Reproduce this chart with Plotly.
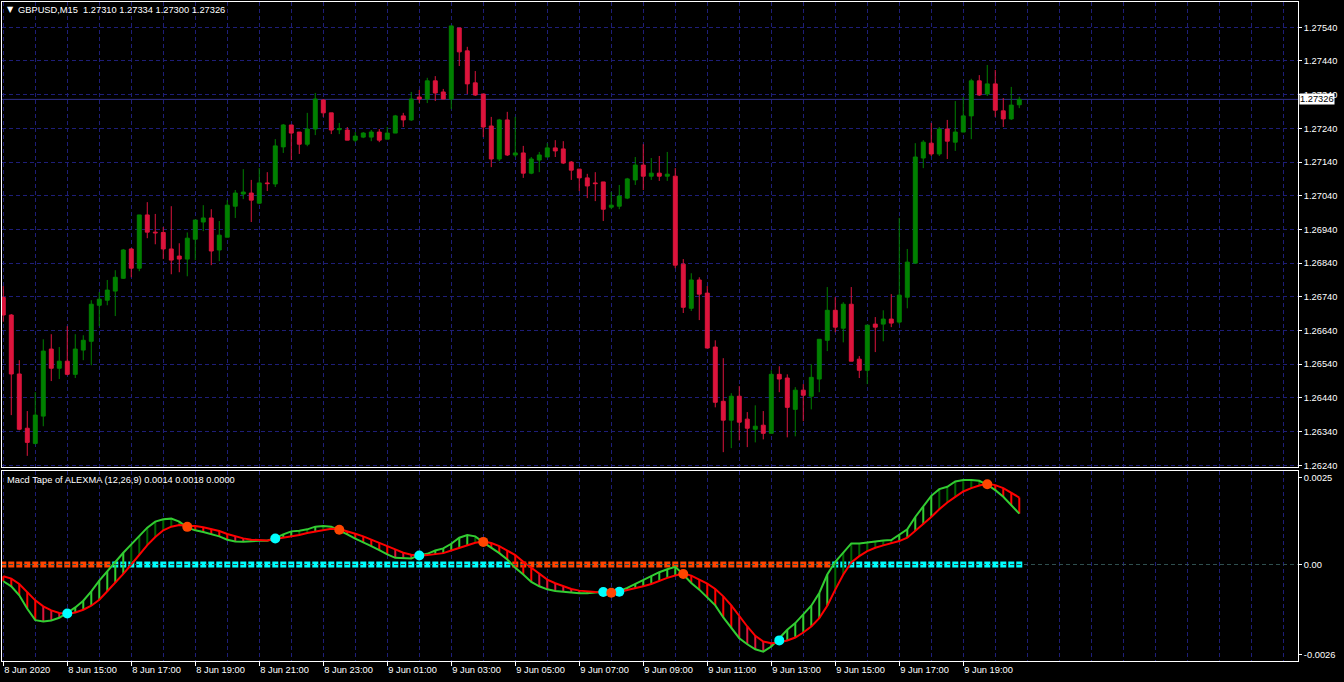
import plotly.graph_objects as go

# ---------------- data ----------------
bar_index = list(range(128))          # 15-minute bars, 8 Jun 2020 13:00 .. 9 Jun 2020 20:45

open_ = [1.26738, 1.26686, 1.26511, 1.26350, 1.26305, 1.26386, 1.26585, 1.26528, 1.26549, 1.26510,
         1.26582, 1.26608, 1.26715, 1.26730, 1.26757, 1.26795, 1.26882, 1.26825, 1.26983, 1.26932,
         1.26931, 1.26882, 1.26861, 1.26852, 1.26911, 1.26962, 1.26974, 1.26879, 1.26917, 1.27009,
         1.27045, 1.27048, 1.27018, 1.27078, 1.27075, 1.27185, 1.27250, 1.27229, 1.27193, 1.27238,
         1.27324, 1.27286, 1.27236, 1.27235, 1.27205, 1.27214, 1.27214, 1.27229, 1.27208, 1.27226,
         1.27277, 1.27265, 1.27333, 1.27327, 1.27381, 1.27348, 1.27327, 1.27538, 1.27470, 1.27375,
         1.27342, 1.27247, 1.27149, 1.27265, 1.27161, 1.27167, 1.27107, 1.27146, 1.27155, 1.27182,
         1.27179, 1.27140, 1.27119, 1.27093, 1.27078, 1.27081, 1.27006, 1.27009, 1.27033, 1.27087,
         1.27131, 1.27098, 1.27107, 1.27098, 1.27098, 1.26837, 1.26706, 1.26790, 1.26751, 1.26591,
         1.26430, 1.26374, 1.26445, 1.26377, 1.26347, 1.26359, 1.26335, 1.26510, 1.26499, 1.26406,
         1.26463, 1.26445, 1.26496, 1.26611, 1.26700, 1.26647, 1.26718, 1.26555, 1.26522, 1.26659,
         1.26659, 1.26674, 1.26665, 1.26739, 1.26840, 1.27152, 1.27196, 1.27164, 1.27238, 1.27199,
         1.27229, 1.27277, 1.27381, 1.27342, 1.27372, 1.27292, 1.27268, 1.27310]

high = [1.26772, 1.26689, 1.26552, 1.26401, 1.26457, 1.26614, 1.26629, 1.26591, 1.26653, 1.26629,
        1.26626, 1.26730, 1.26754, 1.26790, 1.26819, 1.26882, 1.26885, 1.26983, 1.27021, 1.26986,
        1.26947, 1.27009, 1.26899, 1.26931, 1.26968, 1.27012, 1.27000, 1.26965, 1.27027, 1.27057,
        1.27119, 1.27087, 1.27122, 1.27110, 1.27208, 1.27253, 1.27250, 1.27229, 1.27286, 1.27345,
        1.27327, 1.27286, 1.27256, 1.27244, 1.27229, 1.27229, 1.27235, 1.27238, 1.27244, 1.27280,
        1.27286, 1.27348, 1.27354, 1.27390, 1.27395, 1.27357, 1.27544, 1.27538, 1.27482, 1.27410,
        1.27342, 1.27274, 1.27268, 1.27289, 1.27274, 1.27188, 1.27155, 1.27170, 1.27196, 1.27205,
        1.27202, 1.27143, 1.27119, 1.27105, 1.27110, 1.27081, 1.27051, 1.27072, 1.27093, 1.27155,
        1.27193, 1.27152, 1.27158, 1.27170, 1.27122, 1.26852, 1.26810, 1.26798, 1.26772, 1.26611,
        1.26558, 1.26454, 1.26475, 1.26398, 1.26418, 1.26401, 1.26522, 1.26534, 1.26510, 1.26472,
        1.26481, 1.26540, 1.26614, 1.26769, 1.26739, 1.26724, 1.26769, 1.26564, 1.26656, 1.26680,
        1.26700, 1.26748, 1.26974, 1.26882, 1.27196, 1.27205, 1.27256, 1.27244, 1.27265, 1.27321,
        1.27333, 1.27387, 1.27398, 1.27428, 1.27413, 1.27330, 1.27363, 1.27334]

low = [1.26666, 1.26389, 1.26344, 1.26268, 1.26302, 1.26356, 1.26490, 1.26496, 1.26507, 1.26499,
       1.26552, 1.26537, 1.26653, 1.26715, 1.26683, 1.26793, 1.26798, 1.26816, 1.26914, 1.26896,
       1.26852, 1.26807, 1.26813, 1.26801, 1.26849, 1.26935, 1.26834, 1.26846, 1.26917, 1.26974,
       1.27030, 1.26962, 1.27015, 1.27054, 1.27066, 1.27167, 1.27146, 1.27164, 1.27187, 1.27220,
       1.27274, 1.27223, 1.27223, 1.27205, 1.27199, 1.27211, 1.27202, 1.27199, 1.27208, 1.27226,
       1.27244, 1.27262, 1.27315, 1.27315, 1.27321, 1.27327, 1.27297, 1.27425, 1.27342, 1.27336,
       1.27214, 1.27125, 1.27143, 1.27158, 1.27155, 1.27093, 1.27104, 1.27110, 1.27155, 1.27155,
       1.27134, 1.27087, 1.27054, 1.27033, 1.27024, 1.26965, 1.27000, 1.27000, 1.27030, 1.27072,
       1.27057, 1.27087, 1.27084, 1.27084, 1.26825, 1.26692, 1.26698, 1.26671, 1.26588, 1.26412,
       1.26279, 1.26291, 1.26314, 1.26294, 1.26308, 1.26317, 1.26335, 1.26457, 1.26323, 1.26326,
       1.26371, 1.26406, 1.26457, 1.26579, 1.26635, 1.26605, 1.26549, 1.26499, 1.26481, 1.26576,
       1.26608, 1.26650, 1.26659, 1.26706, 1.26840, 1.27122, 1.27158, 1.27158, 1.27149, 1.27173,
       1.27229, 1.27208, 1.27336, 1.27336, 1.27274, 1.27244, 1.27265, 1.27300]

close = [1.26686, 1.26511, 1.26347, 1.26308, 1.26389, 1.26579, 1.26528, 1.26549, 1.26510, 1.26585,
         1.26611, 1.26718, 1.26733, 1.26760, 1.26798, 1.26879, 1.26825, 1.26983, 1.26932, 1.26930,
         1.26882, 1.26849, 1.26852, 1.26914, 1.26968, 1.26974, 1.26876, 1.26923, 1.27012, 1.27048,
         1.27051, 1.27027, 1.27078, 1.27076, 1.27188, 1.27250, 1.27226, 1.27193, 1.27238, 1.27327,
         1.27286, 1.27235, 1.27239, 1.27205, 1.27217, 1.27226, 1.27229, 1.27205, 1.27226, 1.27277,
         1.27265, 1.27327, 1.27327, 1.27381, 1.27345, 1.27327, 1.27544, 1.27467, 1.27372, 1.27339,
         1.27244, 1.27149, 1.27265, 1.27161, 1.27167, 1.27107, 1.27149, 1.27161, 1.27182, 1.27173,
         1.27137, 1.27116, 1.27093, 1.27069, 1.27076, 1.27000, 1.27012, 1.27039, 1.27090, 1.27131,
         1.27098, 1.27107, 1.27098, 1.27104, 1.26834, 1.26709, 1.26790, 1.26748, 1.26588, 1.26427,
         1.26374, 1.26445, 1.26368, 1.26350, 1.26356, 1.26335, 1.26510, 1.26496, 1.26412, 1.26463,
         1.26448, 1.26501, 1.26614, 1.26700, 1.26650, 1.26718, 1.26549, 1.26522, 1.26656, 1.26650,
         1.26674, 1.26662, 1.26745, 1.26843, 1.27155, 1.27199, 1.27164, 1.27238, 1.27202, 1.27229,
         1.27277, 1.27381, 1.27339, 1.27372, 1.27294, 1.27268, 1.27309, 1.27326]

macd = [-4.82e-4, -6.26e-4, -8.86e-4, -12.71e-4, -15.99e-4, -16.37e-4, -16.08e-4, -15.31e-4, -13.87e-4, -12.33e-4,
        -10.40e-4, -7.70e-4, -4.62e-4, -1.93e-4, 0.77e-4, 3.37e-4, 5.78e-4, 8.19e-4, 10.59e-4, 12.33e-4,
        13.00e-4, 13.19e-4, 12.33e-4, 10.59e-4, 9.82e-4, 9.34e-4, 8.76e-4, 8.09e-4, 7.13e-4, 6.64e-4,
        6.55e-4, 6.74e-4, 6.84e-4, 6.84e-4, 7.61e-4, 8.67e-4, 9.53e-4, 9.73e-4, 10.11e-4, 10.88e-4,
        11.07e-4, 10.88e-4, 9.82e-4, 8.67e-4, 7.42e-4, 6.45e-4, 5.30e-4, 4.14e-4, 2.89e-4, 1.93e-4,
        1.73e-4, 1.73e-4, 2.70e-4, 3.08e-4, 4.04e-4, 4.62e-4, 5.97e-4, 7.70e-4, 8.47e-4, 8.09e-4,
        6.36e-4, 4.82e-4, 3.27e-4, 1.44e-4, -0.96e-4, -2.89e-4, -5.01e-4, -6.26e-4, -7.13e-4, -7.61e-4,
        -7.80e-4, -8.19e-4, -8.28e-4, -8.28e-4, -8.09e-4, -7.80e-4, -8.28e-4, -7.70e-4, -6.74e-4, -5.59e-4,
        -4.43e-4, -3.27e-4, -2.21e-4, -1.35e-4, -0.67e-4, -2.89e-4, -5.30e-4, -7.22e-4, -9.44e-4, -11.75e-4,
        -15.22e-4, -18.30e-4, -21.19e-4, -22.92e-4, -24.36e-4, -25.04e-4, -23.59e-4, -21.19e-4, -18.78e-4, -16.85e-4,
        -14.45e-4, -11.84e-4, -8.19e-4, -2.89e-4, 0.77e-4, 3.37e-4, 6.07e-4, 6.07e-4, 6.36e-4, 6.74e-4,
        6.93e-4, 7.03e-4, 8.67e-4, 10.11e-4, 13.67e-4, 16.56e-4, 19.74e-4, 21.67e-4, 22.34e-4, 23.88e-4,
        24.27e-4, 24.27e-4, 24.08e-4, 22.92e-4, 21.38e-4, 19.45e-4, 17.14e-4, 14.64e-4]

signal = [-3.37e-4, -4.04e-4, -5.59e-4, -7.90e-4, -10.30e-4, -12.04e-4, -13.19e-4, -13.96e-4, -14.25e-4, -13.77e-4,
          -13.00e-4, -11.84e-4, -10.11e-4, -7.70e-4, -5.30e-4, -2.70e-4, 0.00e-4, 2.89e-4, 5.59e-4, 7.90e-4,
          9.82e-4, 10.88e-4, 11.36e-4, 11.07e-4, 11.07e-4, 10.69e-4, 10.21e-4, 9.63e-4, 8.76e-4, 8.09e-4,
          7.51e-4, 7.13e-4, 6.93e-4, 6.93e-4, 7.32e-4, 7.70e-4, 7.99e-4, 8.47e-4, 9.05e-4, 9.53e-4,
          10.02e-4, 10.30e-4, 10.21e-4, 9.63e-4, 8.86e-4, 8.09e-4, 7.22e-4, 6.26e-4, 5.30e-4, 4.33e-4,
          3.37e-4, 2.79e-4, 2.50e-4, 2.70e-4, 2.89e-4, 3.27e-4, 4.04e-4, 4.82e-4, 5.59e-4, 6.26e-4,
          6.64e-4, 6.16e-4, 5.30e-4, 4.04e-4, 2.70e-4, 0.77e-4, -0.96e-4, -2.50e-4, -4.33e-4, -5.39e-4,
          -6.26e-4, -7.03e-4, -7.51e-4, -7.80e-4, -7.90e-4, -7.99e-4, -7.99e-4, -7.99e-4, -7.32e-4, -6.84e-4,
          -6.26e-4, -5.59e-4, -4.62e-4, -3.85e-4, -3.18e-4, -2.60e-4, -3.18e-4, -4.33e-4, -5.49e-4, -7.03e-4,
          -9.15e-4, -11.75e-4, -14.93e-4, -17.82e-4, -20.51e-4, -22.15e-4, -22.63e-4, -22.44e-4, -21.86e-4, -20.99e-4,
          -19.55e-4, -17.82e-4, -15.41e-4, -11.84e-4, -7.22e-4, -2.89e-4, 0.58e-4, 2.41e-4, 3.85e-4, 4.82e-4,
          5.49e-4, 6.07e-4, 6.74e-4, 7.70e-4, 9.63e-4, 11.56e-4, 13.67e-4, 15.89e-4, 17.82e-4, 19.45e-4,
          20.99e-4, 21.96e-4, 22.73e-4, 23.21e-4, 22.82e-4, 21.96e-4, 20.70e-4, 19.26e-4]

time_tick_bars = [0, 8, 16, 24, 32, 40, 48, 56, 64, 72, 80, 88, 96, 104, 112, 120]
time_tick_labels = ["8 Jun 2020", "8 Jun 15:00", "8 Jun 17:00", "8 Jun 19:00", "8 Jun 21:00",
                    "8 Jun 23:00", "9 Jun 01:00", "9 Jun 03:00", "9 Jun 05:00", "9 Jun 07:00",
                    "9 Jun 09:00", "9 Jun 11:00", "9 Jun 13:00", "9 Jun 15:00", "9 Jun 17:00",
                    "9 Jun 19:00"]
hour_grid_bars = [b for b in range(4, 161, 4) if b not in time_tick_bars]
price_ticks = [1.26240, 1.26340, 1.26440, 1.26540, 1.26640, 1.26740, 1.26840, 1.26940,
               1.27040, 1.27140, 1.27240, 1.27340, 1.27440, 1.27540]
macd_ticks = [0.0025, 0.0, -0.0026]
macd_tick_labels = ["0.0025", "0.00", "-0.0026"]
last_price = 1.27326
title_text = "GBPUSD,M15  1.27310 1.27334 1.27300 1.27326"
macd_title = "Macd Tape of ALEXMA (12,26,9) 0.0014 0.0018 0.0000"

# ---------------- styles ----------------
FONT = "Liberation Sans"
GRID = "#1E1E78"
BULL = "#008000"
BEAR = "#DC143C"
CYAN = "#00FFFF"
ORANGE = "#FF4500"

fig = go.Figure()

fig.add_trace(go.Candlestick(
    x=bar_index, open=open_, high=high, low=low, close=close,
    increasing=dict(line=dict(color=BULL, width=1), fillcolor=BULL),
    decreasing=dict(line=dict(color=BEAR, width=1), fillcolor=BEAR),
    whiskerwidth=0, xaxis="x", yaxis="y", showlegend=False, hoverinfo="skip"))

# zero-line tape coloured by MACD sign
fig.add_trace(go.Scatter(
    x=bar_index, y=[0.0] * len(bar_index), mode="markers", xaxis="x2", yaxis="y2",
    marker=dict(symbol="square", size=6, color=[CYAN if m > 0 else ORANGE for m in macd],
                line=dict(width=0)),
    showlegend=False, hoverinfo="skip"))

# histogram segments between MACD and signal
groups = {"#32CD32": ([], []), "#006400": ([], []), "#FF0000": ([], []), "#DC143C": ([], [])}
prev = None
for i in bar_index:
    d = macd[i] - signal[i]
    growing = prev is None or abs(d) >= abs(prev)
    if d > 0:
        col = "#32CD32" if growing else "#006400"
    else:
        col = "#FF0000" if growing else "#DC143C"
    groups[col][0].extend([i, i, None])
    groups[col][1].extend([macd[i], signal[i], None])
    prev = d
for col, (gx, gy) in groups.items():
    fig.add_trace(go.Scatter(x=gx, y=gy, mode="lines", line=dict(color=col, width=2),
                             xaxis="x2", yaxis="y2", showlegend=False, hoverinfo="skip"))

fig.add_trace(go.Scatter(x=bar_index, y=macd, mode="lines", line=dict(color="#32CD32", width=2),
                         xaxis="x2", yaxis="y2", showlegend=False, hoverinfo="skip"))
fig.add_trace(go.Scatter(x=bar_index, y=signal, mode="lines", line=dict(color="#FF0000", width=2),
                         xaxis="x2", yaxis="y2", showlegend=False, hoverinfo="skip"))

# crossing dots
up_x, up_y, dn_x, dn_y = [], [], [], []
for i in bar_index[1:]:
    a0 = macd[i - 1] - signal[i - 1]
    a1 = macd[i] - signal[i]
    if a0 <= 0 < a1:
        up_x.append(i); up_y.append((macd[i] + signal[i]) / 2)
    elif a0 > 0 >= a1:
        dn_x.append(i); dn_y.append((macd[i] + signal[i]) / 2)
fig.add_trace(go.Scatter(x=up_x, y=up_y, mode="markers", marker=dict(color=CYAN, size=10),
                         xaxis="x2", yaxis="y2", showlegend=False, hoverinfo="skip"))
fig.add_trace(go.Scatter(x=dn_x, y=dn_y, mode="markers", marker=dict(color=ORANGE, size=10),
                         xaxis="x2", yaxis="y2", showlegend=False, hoverinfo="skip"))

xrange = [-0.16, 161.84]
axis_font = dict(family=FONT, size=9.3, color="#FFFFFF")
common_x = dict(range=xrange, showline=True, linecolor="#FFFFFF", linewidth=1, mirror=True,
                tickmode="array", tickvals=time_tick_bars, showgrid=True, gridcolor=GRID,
                griddash="4px,3px", gridwidth=1, zeroline=False,
                minor=dict(tickmode="array", tickvals=hour_grid_bars, showgrid=True,
                           gridcolor=GRID, griddash="4px,3px", gridwidth=1, ticks=""))

fig.update_layout(
    width=1344, height=682,
    margin=dict(l=2, r=46, t=2, b=21),
    paper_bgcolor="#000000", plot_bgcolor="#000000",
    showlegend=False,
    xaxis=dict(common_x, domain=[0, 1], anchor="y", showticklabels=False, ticks="",
               rangeslider=dict(visible=False)),
    xaxis2=dict(common_x, domain=[0, 1], anchor="y2", matches="x", ticktext=time_tick_labels,
                ticks="outside", ticklen=4, tickcolor="#FFFFFF", tickfont=axis_font,
                ticklabelposition="outside right"),
    yaxis=dict(domain=[0.2944, 1], anchor="x", side="right", range=[1.26235, 1.27615],
               tickmode="array", tickvals=price_ticks, ticktext=[f"{p:.5f}" for p in price_ticks],
               showline=True, linecolor="#FFFFFF", linewidth=1, mirror=True,
               ticks="outside", ticklen=3, tickcolor="#FFFFFF", tickfont=axis_font,
               showgrid=True, gridcolor=GRID, griddash="4px,3px", zeroline=False),
    yaxis2=dict(domain=[0, 0.2883], anchor="x2", side="right", range=[-0.002774, 0.002688],
                tickmode="array", tickvals=macd_ticks, ticktext=macd_tick_labels,
                showline=True, linecolor="#FFFFFF", linewidth=1, mirror=True,
                ticks="outside", ticklen=3, tickcolor="#FFFFFF", tickfont=axis_font,
                showgrid=False, zeroline=False),
    shapes=[
        dict(type="line", xref="x domain", yref="y", x0=0, x1=1, y0=last_price, y1=last_price,
             line=dict(color="#303088", width=1), layer="below"),
        dict(type="line", xref="x2 domain", yref="y2", x0=0, x1=1, y0=0, y1=0,
             line=dict(color="#2F4F4F", width=1, dash="4px,3px"), layer="above"),
    ],
    annotations=[
        dict(xref="paper", yref="paper", x=0, y=1, xanchor="left", yanchor="top", xshift=3, yshift=-1,
             text="▼", showarrow=False, font=dict(family="DejaVu Sans", size=8, color="#FFFFFF")),
        dict(xref="paper", yref="paper", x=0, y=1, xanchor="left", yanchor="top", xshift=14, yshift=-1,
             text=title_text, showarrow=False, font=axis_font),
        dict(xref="x2 domain", yref="y2 domain", x=0, y=1, xanchor="left", yanchor="top",
             xshift=3, yshift=-2, text=macd_title, showarrow=False, font=axis_font),
        dict(xref="paper", yref="y", x=1, y=last_price, xanchor="left", yanchor="middle", xshift=1,
             text="1.27326", showarrow=False, bgcolor="#FFFFFF", borderpad=0,
             font=dict(family=FONT, size=9.3, color="#000000")),
    ],
)

fig.write_html("out.html", config={"displayModeBar": False},
               post_script="document.body.style.margin='0';document.body.style.padding='0';"
                           "document.body.style.background='#000000';")
